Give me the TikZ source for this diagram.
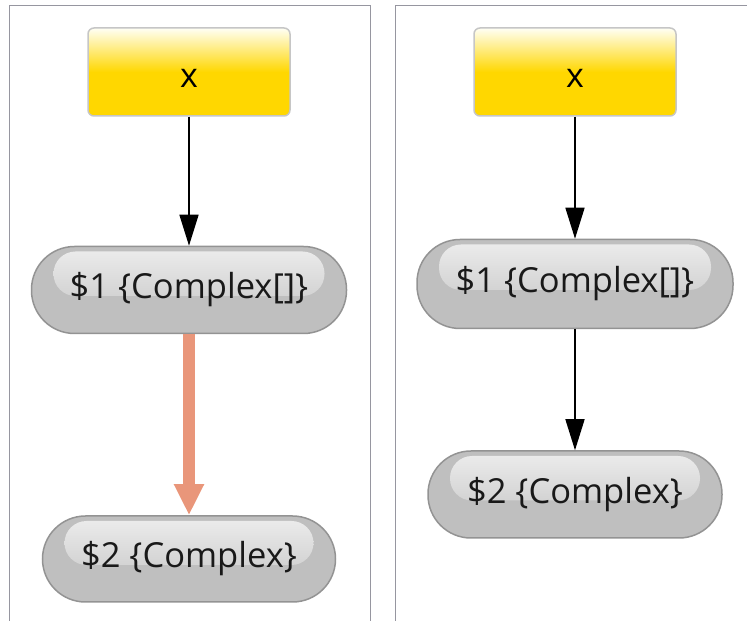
\documentclass[tikz,border=0pt]{standalone}
\usepackage{fontspec}
\setmainfont{Open Sans}
\usepackage{tikz}
\usetikzlibrary{positioning}
\usetikzlibrary{arrows.meta}

\definecolor{gold}{RGB}{255,215,0}
\definecolor{salmon}{RGB}{233,150,122}
\definecolor{panelline}{RGB}{150,150,160}

\begin{document}
\begin{tikzpicture}[x=1pt, y=1pt,
    inbox/.style={rectangle, rounded corners=6pt, draw=gray!45, line width=1.5pt,
        minimum width=202pt, minimum height=88pt,
        top color=yellow!4, bottom color=gold, middle color=gold,
        font=\fontsize{34}{40}\selectfont, text height=34pt, text depth=3pt},
    capsule/.style={rectangle, rounded corners=43pt, draw=gray!85, line width=1.5pt,
        fill=gray!50, text=black!90, font=\fontsize{34.5}{40}\selectfont,
        path picture={
            \shade[top color=gray!14, bottom color=gray!50, rounded corners=22pt]
                ([xshift=22pt,yshift=-5pt]path picture bounding box.north west) rectangle
                ([xshift=-22pt,yshift=-6pt]path picture bounding box.east);
        }},
    flow/.style={-{Triangle[length=31pt,width=19pt]}, line width=1.5pt},
    hotflow/.style={-{Triangle[length=31pt,width=28pt]}, line width=12pt, salmon}
]
    \useasboundingbox (0,0) rectangle (747,621);

    % panel frames
    \draw[panelline, line width=1pt] (9,0) -- (9,615) -- (370,615) -- (370,0);
    \draw[panelline, line width=1pt] (395,0) -- (395,615) -- (747,615);

    % left graph
    \node[inbox] (xl) at (189,549) {x};
    \node[capsule, minimum width=315pt, minimum height=87pt, below=129pt of xl] (l1) {\$1 \{Complex[]\}};
    \node[capsule, minimum width=293pt, minimum height=86pt, below=181pt of l1] (l2) {\$2 \{Complex\}};

    % right graph
    \node[inbox] (xr) at (575,549) {x};
    \node[capsule, minimum width=316pt, minimum height=89pt, below=122pt of xr] (r1) {\$1 \{Complex[]\}};
    \node[capsule, minimum width=294pt, minimum height=87pt, below=121pt of r1] (r2) {\$2 \{Complex\}};

    \draw[flow] (xl) -- (l1);
    \draw[hotflow] (l1) -- (l2);

    \draw[flow] (xr) -- (r1);
    \draw[flow] (r1) -- (r2);
\end{tikzpicture}
\end{document}
